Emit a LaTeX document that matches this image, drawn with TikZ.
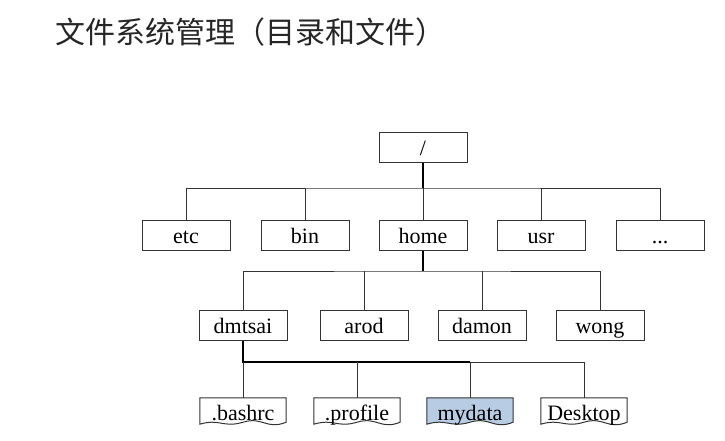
\documentclass[tikz,border=0pt]{standalone}
\usepackage{fontspec}
\setmainfont{Liberation Serif}
\newfontfamily\cjk{Noto Sans CJK SC}
\definecolor{docblue}{HTML}{B8CCE4}
\begin{document}
\begin{tikzpicture}[x=1pt,y=-1pt,
  box/.style={draw=black!80,line width=1pt,minimum width=88pt,minimum height=30pt,inner sep=0pt,text height=18pt,text depth=2pt,font=\fontsize{22}{22}\selectfont},
  doc/.style={minimum width=86pt,minimum height=26pt,inner sep=0pt,text height=18pt,text depth=2pt,font=\fontsize{22}{22}\selectfont},
  ln/.style={line width=1pt,black!80},
  thick ln/.style={line width=2pt,black}]
\useasboundingbox (0,0) rectangle (725,440);
\node[anchor=west,font=\cjk\fontsize{30}{30}\selectfont,text=black!85] (title) at (52,32) {文件系统管理（目录和文件）};
\node[box] (root) at (423,147) {/};
\node[box] (etc) at (186,235) {etc};
\node[box] (bin) at (305,235) {bin};
\node[box] (home) at (423,235) {home};
\node[box] (usr) at (541,235) {usr};
\node[box] (more) at (660,235) {...};
\node[box] (dmtsai) at (243,325) {dmtsai};
\node[box] (arod) at (364,325) {arod};
\node[box] (damon) at (482,325) {damon};
\node[box] (wong) at (600,325) {wong};
\node[doc] (bashrc) at (243,411) {};
\node[doc] (profile) at (357,411) {};
\node[doc] (mydata) at (470,411) {};
\node[doc] (desktop) at (584,411) {};
\foreach \n/\c in {bashrc/white,profile/white,mydata/docblue,desktop/white}{
  \draw[ln,fill=\c] (\n.north west) -- (\n.north east) -- ([yshift=2pt]\n.south east)
    .. controls ([xshift=-20pt,yshift=-6pt]\n.south east) and ([xshift=20pt,yshift=8pt]\n.south) .. ([yshift=2pt]\n.south)
    .. controls ([xshift=-20pt,yshift=-4pt]\n.south) and ([xshift=20pt,yshift=6pt]\n.south west) .. ([yshift=0pt]\n.south west) -- cycle;
}
\node[doc,yshift=-1pt] at (bashrc) {.bashrc};
\node[doc,yshift=-1pt] at (profile) {.profile};
\node[doc,yshift=-1pt] at (mydata) {mydata};
\node[doc,yshift=-1pt] at (desktop) {Desktop};
% level 1
\coordinate (b1) at (423,188);
\draw[thick ln] (root.south) -- (b1);
\draw[ln] (etc.north) |- (b1) -| (more.north);
\draw[ln] (bin.north) -- (bin.north |- b1);
\draw[ln] (home.north) -- (b1);
\draw[ln] (usr.north) -- (usr.north |- b1);
% level 2
\coordinate (b2) at (423,271);
\draw[thick ln] (home.south) -- (b2);
\draw[ln] (dmtsai.north) |- (b2) -| (wong.north);
\draw[ln] (arod.north) -- (arod.north |- b2);
\draw[ln] (damon.north) -- (damon.north |- b2);
% level 3
\coordinate (b3) at (243,362);
\draw[thick ln] (dmtsai.south) -- (b3) -- (b3 -| mydata.north);
\draw[ln] (b3 -| mydata.north) -| (desktop.north);
\draw[ln] (b3) -- (bashrc.north);
\draw[ln] (profile.north) -- (profile.north |- b3);
\draw[ln] (mydata.north) -- (mydata.north |- b3);
\end{tikzpicture}
\end{document}
